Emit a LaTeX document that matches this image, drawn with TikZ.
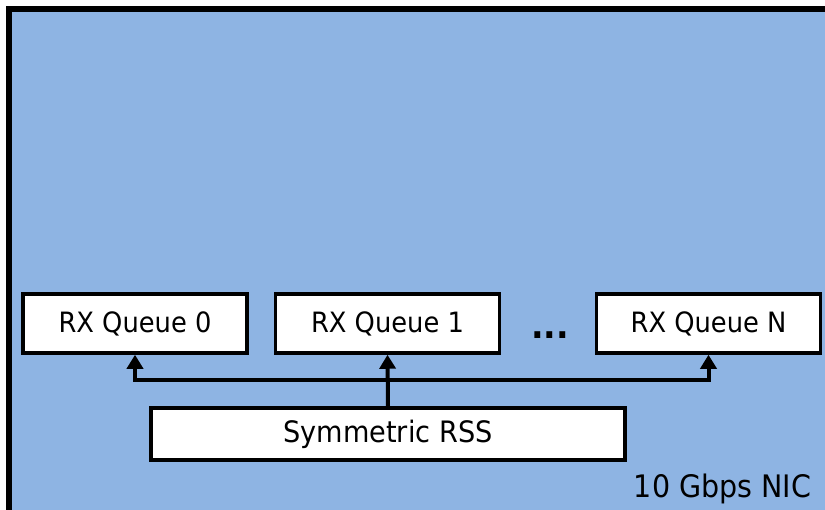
\documentclass[tikz,border=0pt]{standalone}
\usepackage{fontspec}
\setmainfont[FakeStretch=0.92]{DejaVu Sans}
\usetikzlibrary{arrows.meta}
\definecolor{nicblue}{HTML}{8EB4E3}
\tikzset{
  lbl/.style={font=\fontsize{28}{32}\selectfont},
  qbox/.style={lbl, draw=black, fill=white, line width=3.5pt, minimum width=224pt, minimum height=59pt, inner sep=0pt},
  conn/.style={draw=black, line width=4pt, -{Triangle[length=14pt,width=16pt]}},
}
\begin{document}
\begin{tikzpicture}[x=1pt,y=-1pt]
\useasboundingbox (0,0) rectangle (825,509);
\clip (0,0) rectangle (825,509);
\fill[white] (0,0) rectangle (825,509);
\draw[line width=6pt, fill=nicblue] (9,9) rectangle (840,530);
\node[qbox] (q0) at (135,323.5) {RX Queue 0};
\node[qbox] (q1) at (387.5,323.5) {RX Queue 1};
\node[qbox] (qN) at (708.5,323.5) {RX Queue N};
\node[font=\fontsize{36}{40}\selectfont\bfseries, anchor=base, inner sep=0pt] (dots) at (550,338) {...};
\node[qbox, minimum width=474pt, minimum height=52pt, font=\fontsize{29.5}{34}\selectfont] (rss) at (388,434) {Symmetric RSS};
\node[font=\fontsize{31}{36}\selectfont, anchor=base, inner sep=0pt] (nic) at (722.5,497) {10 Gbps NIC};
\coordinate (j) at (388,380);
\draw[conn] (rss.north) -- (q1.south);
\draw[conn] (j) -| (q0.south);
\draw[conn] (j) -| (qN.south);
\end{tikzpicture}
\end{document}
